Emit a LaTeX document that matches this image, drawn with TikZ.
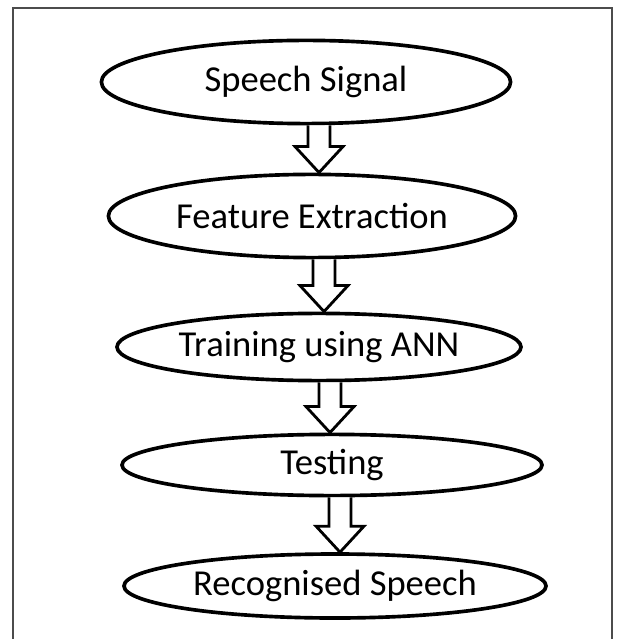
\documentclass[tikz,border=0pt]{standalone}
\usepackage{fontspec}
\setmainfont{Carlito}
\usepackage{tikz}
\usetikzlibrary{shapes.geometric, positioning, calc}
\tikzstyle{stage} = [ellipse, draw=black, line width=2.6pt, inner sep=0pt, text centered, font=\fontsize{26}{30}\selectfont]
\tikzstyle{frame} = [draw=black!70, line width=1pt]
\tikzstyle{fat} = [draw=black, line width=2pt, fill=white, line join=miter, to path={let \p1=(\tikztostart), \p2=(\tikztotarget) in (\x2-0.275cm,\y1) -- (\x2-0.275cm,\y2+0.65cm) -- (\x2-0.6cm,\y2+0.65cm) -- (\x2,\y2) -- (\x2+0.6cm,\y2+0.65cm) -- (\x2+0.275cm,\y2+0.65cm) -- (\x2+0.275cm,\y1)}]

\begin{document}
\begin{tikzpicture}[node distance = 3cm]
        \useasboundingbox (0,0) rectangle (15.4,-15.975);
        % outer frame
        \draw[frame] (0.325,-15.975) -- (0.325,-0.2) -- (15.3,-0.2) -- (15.3,-15.975);

        \node(sig) [stage, minimum width=10.23cm, minimum height=2.08cm] at (7.65,-2.05) {Speech Signal};
        \node(feat) [stage, below of=sig, minimum width=10.18cm, minimum height=2.08cm, xshift=0.15cm, yshift=-0.35cm] {Feature Extraction};
        \node(train) [stage, below of=feat, minimum width=10.1cm, minimum height=1.68cm, xshift=0.175cm, yshift=-0.275cm] {Training using ANN};
        \node(test) [stage, below of=train, minimum width=10.5cm, minimum height=1.53cm, xshift=0.325cm, yshift=0.05cm] {Testing};
        \node(recog) [stage, below of=test, minimum width=10.55cm, minimum height=1.6cm, xshift=0.075cm, yshift=-0.025cm] {Recognised Speech};

        % Draw edges
        \draw [fat] (sig.south) to ([xshift=0.175cm]feat.north);
        \draw [fat] (feat.south) to ([xshift=0.125cm]train.north);
        \draw [fat] (train.south) to ([xshift=-0.05cm]test.north);
        \draw [fat] (test.south) to ([xshift=0.125cm]recog.north);

\end{tikzpicture}
\end{document}
